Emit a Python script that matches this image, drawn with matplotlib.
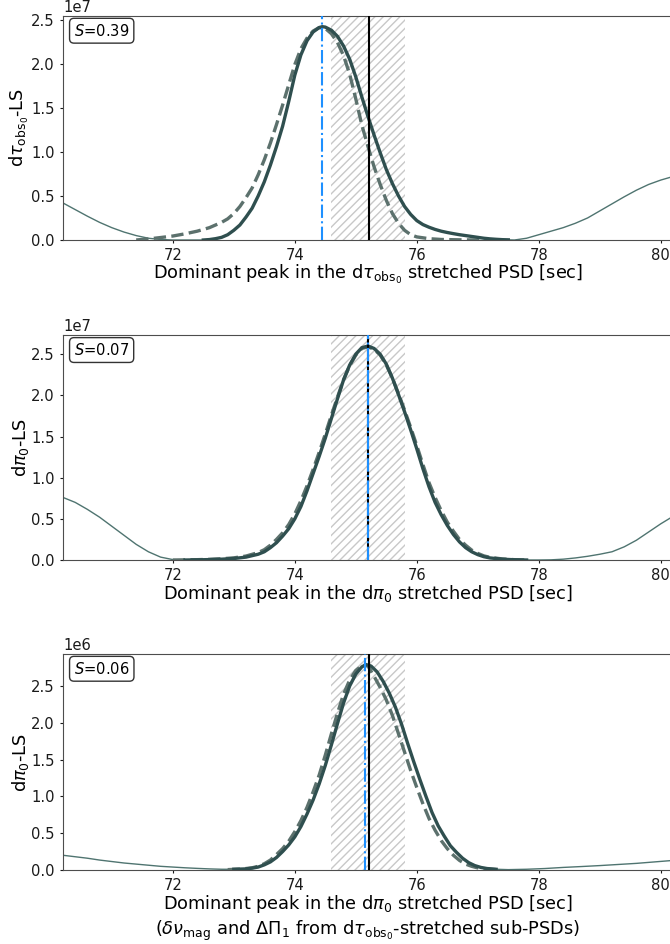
import numpy as np
import matplotlib
matplotlib.use("Agg")
import matplotlib.pyplot as plt

plt.rcParams['font.family'] = ['DejaVu Sans']
plt.rcParams['mathtext.fontset'] = 'dejavusans'

# ---- panel 1 : dtau_obs0 stretched (units 1e7) ----
p1_thin_l_x = [70.2, 70.4, 70.6, 70.8, 71.0, 71.2, 71.4, 71.6, 71.8, 72.0, 72.2, 72.4]
p1_thin_l_y = [0.42, 0.345, 0.27, 0.20, 0.14, 0.09, 0.05, 0.02, 0.006, 0.0, 0.0, 0.0]
p1_x = [72.5, 72.6, 72.7, 72.8, 72.9, 73.0, 73.1, 73.2, 73.3, 73.4, 73.5, 73.6, 73.7, 73.8,
        73.9, 74.0, 74.1, 74.2, 74.3, 74.4, 74.45, 74.5, 74.6, 74.7, 74.8, 74.9, 75.0, 75.1,
        75.2, 75.3, 75.4, 75.5, 75.6, 75.7, 75.8, 75.9, 76.0, 76.1, 76.2, 76.3, 76.4, 76.5,
        76.6, 76.7, 76.8, 76.9, 77.0, 77.1, 77.2, 77.3, 77.4, 77.5]
p1_y = [0.0, 0.005, 0.015, 0.03, 0.06, 0.11, 0.17, 0.26, 0.36, 0.50, 0.66, 0.85, 1.06, 1.29,
        1.57, 1.87, 2.10, 2.26, 2.36, 2.41, 2.42, 2.415, 2.38, 2.31, 2.20, 2.05, 1.85, 1.62,
        1.40, 1.19, 0.99, 0.80, 0.64, 0.50, 0.38, 0.29, 0.22, 0.175, 0.145, 0.12, 0.10, 0.085,
        0.072, 0.06, 0.05, 0.04, 0.03, 0.02, 0.013, 0.008, 0.004, 0.002]
p1_thin_r_x = [77.6, 77.8, 78.0, 78.2, 78.4, 78.6, 78.8, 79.0, 79.2, 79.4, 79.6, 79.8, 80.0, 80.2]
p1_thin_r_y = [0.0, 0.02, 0.06, 0.10, 0.14, 0.19, 0.25, 0.33, 0.41, 0.49, 0.565, 0.63, 0.68, 0.72]
p1_dash_x = [71.4, 71.6, 71.8, 72.0, 72.2, 72.4, 72.6, 72.8, 72.9, 73.0, 73.1, 73.2, 73.3,
             73.4, 73.5, 73.6, 73.7, 73.8, 73.9, 74.0, 74.1, 74.2, 74.3, 74.4, 74.5, 74.6,
             74.7, 74.8, 74.9, 75.0, 75.1, 75.2, 75.3, 75.4, 75.5, 75.6, 75.7, 75.8, 75.9,
             76.0, 76.2, 76.4, 76.7, 77.0, 77.4]
p1_dash_y = [0.0, 0.012, 0.028, 0.045, 0.07, 0.10, 0.14, 0.20, 0.24, 0.30, 0.38, 0.48, 0.59,
             0.74, 0.91, 1.10, 1.31, 1.53, 1.76, 1.99, 2.17, 2.29, 2.37, 2.41, 2.40, 2.34,
             2.24, 2.09, 1.88, 1.60, 1.30, 1.06, 0.83, 0.63, 0.45, 0.30, 0.19, 0.11, 0.06,
             0.035, 0.015, 0.006, 0.002, 0.0, 0.0]

# ---- panel 2 : dpi0 stretched (units 1e7) ----
p2_thin_l_x = [70.2, 70.4, 70.6, 70.8, 71.0, 71.2, 71.4, 71.6, 71.8, 72.0]
p2_thin_l_y = [0.76, 0.70, 0.615, 0.52, 0.41, 0.30, 0.19, 0.10, 0.035, 0.005]
p2_x = [72.2, 72.4, 72.6, 72.8, 73.0, 73.2, 73.4, 73.5, 73.6, 73.7, 73.8, 73.9, 74.0, 74.1,
        74.2, 74.3, 74.4, 74.5, 74.6, 74.7, 74.8, 74.9, 75.0, 75.1, 75.2, 75.3, 75.4, 75.5,
        75.6, 75.7, 75.8, 75.9, 76.0, 76.1, 76.2, 76.3, 76.4, 76.5, 76.6, 76.7, 76.8, 76.9,
        77.0, 77.1, 77.2, 77.4, 77.6, 77.8]
p2_y = [0.0, 0.002, 0.005, 0.01, 0.018, 0.035, 0.07, 0.10, 0.15, 0.21, 0.29, 0.38, 0.50, 0.65,
        0.84, 1.05, 1.26, 1.48, 1.72, 1.96, 2.19, 2.37, 2.50, 2.58, 2.60, 2.57, 2.50, 2.38,
        2.21, 2.01, 1.80, 1.58, 1.35, 1.11, 0.89, 0.70, 0.55, 0.42, 0.31, 0.22, 0.15, 0.10,
        0.065, 0.04, 0.025, 0.01, 0.003, 0.0]
p2_thin_r_x = [78.0, 78.2, 78.4, 78.6, 78.8, 79.0, 79.2, 79.4, 79.6, 79.8, 80.0, 80.2]
p2_thin_r_y = [0.0, 0.002, 0.01, 0.025, 0.045, 0.07, 0.10, 0.16, 0.24, 0.34, 0.44, 0.53]
p2_dash_x = [72.0, 72.2, 72.4, 72.6, 72.8, 73.0, 73.2, 73.4, 73.5, 73.6, 73.7, 73.8, 73.9,
             74.0, 74.1, 74.2, 74.3, 74.4, 74.5, 74.6, 74.7, 74.8, 74.9, 75.0, 75.1, 75.2,
             75.3, 75.4, 75.5, 75.6, 75.7, 75.8, 75.9, 76.0, 76.1, 76.2, 76.3, 76.4, 76.5,
             76.6, 76.7, 76.8, 76.9, 77.0, 77.1, 77.2, 77.4, 77.6, 77.8]
p2_dash_y = [0.0, 0.002, 0.004, 0.008, 0.015, 0.026, 0.048, 0.09, 0.125, 0.18, 0.25, 0.33,
             0.43, 0.56, 0.72, 0.90, 1.10, 1.31, 1.53, 1.76, 1.98, 2.19, 2.36, 2.49, 2.57,
             2.59, 2.56, 2.49, 2.37, 2.21, 2.02, 1.82, 1.61, 1.39, 1.16, 0.94, 0.76, 0.60,
             0.46, 0.35, 0.25, 0.18, 0.12, 0.08, 0.05, 0.032, 0.013, 0.004, 0.0]

# ---- panel 3 : dpi0 stretched, sub-PSDs (units 1e6) ----
p3_thin_l_x = [70.2, 70.4, 70.6, 70.8, 71.0, 71.2, 71.4, 71.6, 71.8, 72.0, 72.2, 72.4, 72.6, 72.8]
p3_thin_l_y = [0.20, 0.18, 0.16, 0.135, 0.115, 0.095, 0.08, 0.065, 0.05, 0.04, 0.03, 0.022,
               0.015, 0.01]
p3_x = [73.0, 73.2, 73.3, 73.4, 73.5, 73.6, 73.7, 73.8, 73.9, 74.0, 74.1, 74.2, 74.3, 74.4,
        74.5, 74.6, 74.7, 74.8, 74.9, 75.0, 75.1, 75.17, 75.25, 75.35, 75.45, 75.55, 75.65,
        75.75, 75.85, 75.95, 76.05, 76.15, 76.25, 76.35, 76.45, 76.55, 76.65, 76.75, 76.85,
        76.95, 77.05, 77.15, 77.3]
p3_y = [0.01, 0.015, 0.025, 0.04, 0.07, 0.11, 0.17, 0.25, 0.34, 0.45, 0.59, 0.76, 0.95, 1.17,
        1.42, 1.70, 1.99, 2.27, 2.50, 2.66, 2.76, 2.79, 2.77, 2.69, 2.56, 2.40, 2.21,
        1.98, 1.72, 1.47, 1.23, 1.00, 0.78, 0.60, 0.46, 0.33, 0.24, 0.16, 0.10,
        0.06, 0.035, 0.02, 0.01]
p3_thin_r_x = [77.5, 77.8, 78.1, 78.4, 78.7, 79.0, 79.3, 79.6, 79.9, 80.2]
p3_thin_r_y = [0.005, 0.01, 0.02, 0.035, 0.047, 0.06, 0.075, 0.09, 0.11, 0.13]
p3_dash_x = [72.9, 73.1, 73.2, 73.3, 73.4, 73.5, 73.6, 73.7, 73.8, 73.9, 74.0, 74.1, 74.2,
             74.3, 74.4, 74.5, 74.6, 74.7, 74.8, 74.9, 75.0, 75.12, 75.2, 75.3, 75.4, 75.5,
             75.6, 75.7, 75.8, 75.9, 76.0, 76.1, 76.2, 76.3, 76.4, 76.5, 76.6, 76.7, 76.8,
             76.9, 77.0, 77.2, 77.35]
p3_dash_y = [0.005, 0.012, 0.02, 0.03, 0.05, 0.085, 0.135, 0.21, 0.29, 0.39, 0.52, 0.67, 0.85,
             1.06, 1.29, 1.56, 1.85, 2.13, 2.39, 2.58, 2.71, 2.79, 2.77, 2.63, 2.48, 2.31,
             2.10, 1.85, 1.60, 1.35, 1.12, 0.90, 0.70, 0.54, 0.40, 0.29, 0.20, 0.13, 0.08,
             0.05, 0.028, 0.01, 0.003]

scales = [1e7, 1e7, 1e6]
s_values = [0.39, 0.07, 0.06]
blue_lines = [74.45, 75.20, 75.15]
black_lines = [75.22, 75.20, 75.21]
span = (74.6, 75.8)

ylabels = [r'd$\tau_{\mathrm{obs}_0}$-LS', r'd$\pi_0$-LS', r'd$\pi_0$-LS']
xlabels = [r'Dominant peak in the d$\tau_{\mathrm{obs}_0}$ stretched PSD [sec]',
           r'Dominant peak in the d$\pi_0$ stretched PSD [sec]',
           'Dominant peak in the d$\\pi_0$ stretched PSD [sec]\n'
           r'($\delta\nu_{\mathrm{mag}}$ and $\Delta\Pi_1$ from d$\tau_{\mathrm{obs}_0}$-stretched sub-PSDs)']

panels = [
    (p1_thin_l_x, p1_thin_l_y, p1_x, p1_y, p1_thin_r_x, p1_thin_r_y, p1_dash_x, p1_dash_y),
    (p2_thin_l_x, p2_thin_l_y, p2_x, p2_y, p2_thin_r_x, p2_thin_r_y, p2_dash_x, p2_dash_y),
    (p3_thin_l_x, p3_thin_l_y, p3_x, p3_y, p3_thin_r_x, p3_thin_r_y, p3_dash_x, p3_dash_y),
]

W, H = 670, 944
fig = plt.figure(figsize=(W / 100, H / 100), dpi=100)
# axes boxes in pixels: (top, bottom)
boxes = [(16, 240), (335.3, 560), (654.3, 870)]
left_px, right_px = 63, 673

main_col = '#2f4f4f'
thin_col = '#4f7470'
dash_col = '#5c716d'

for i, (box, data) in enumerate(zip(boxes, panels)):
    top, bot = box
    ax = fig.add_axes([left_px / W, 1 - bot / H, (right_px - left_px) / W, (bot - top) / H])
    tlx, tly, mx, my, trx, try_, dx, dy = data
    sc = scales[i]
    full_x = np.array(tlx + mx + trx)
    full_y = np.array(tly + my + try_) * sc
    ax.axvspan(span[0], span[1], facecolor='none', edgecolor='#c8c8c8', hatch='////',
               linewidth=0, zorder=0)
    ax.plot(full_x, full_y, color=thin_col, lw=1.0, zorder=2)
    ax.plot(dx, np.array(dy) * sc, color=dash_col, lw=2.4, ls='--', zorder=3)
    ax.plot(mx, np.array(my) * sc, color=main_col, lw=2.4, zorder=4)
    ax.axvline(black_lines[i], color='black', lw=1.5, zorder=5)
    ax.axvline(blue_lines[i], color='#1e90ff', lw=1.5, ls='-.', zorder=6)

    ax.set_xlim(70.2, 80.2)
    ax.set_ylim(0, 1.05 * max(my) * sc)
    ax.set_xticks([72, 74, 76, 78, 80])
    ax.tick_params(labelsize=10.6, length=2.4, pad=3.5, colors='0.1')
    ax.yaxis.get_offset_text().set_fontsize(10.6)
    for sp in ax.spines.values():
        sp.set_color('0.3')
    ax.set_ylabel(ylabels[i], fontsize=12.8, labelpad=0)
    ax.set_xlabel(xlabels[i], fontsize=12.8, labelpad=0)
    ax.text(0.018, 0.97, r'$S$=%.2f' % s_values[i], transform=ax.transAxes, fontsize=10.6,
            va='top', ha='left',
            bbox=dict(boxstyle='round,pad=0.3', facecolor='white', edgecolor='0.2'))

fig.savefig('out.png', dpi=100)
